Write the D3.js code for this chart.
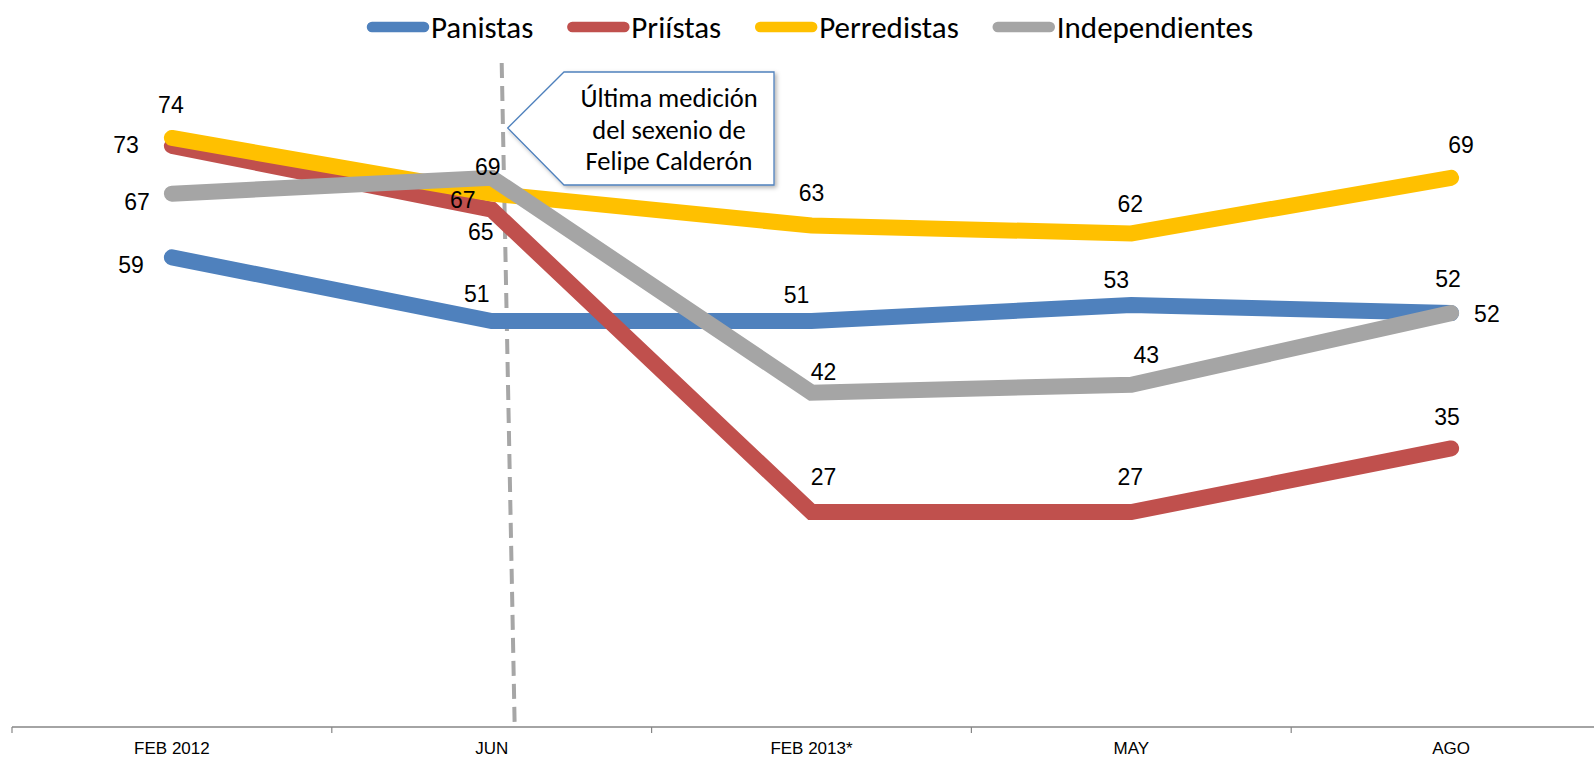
<!DOCTYPE html>
<html>
<head>
<meta charset="utf-8">
<script src="https://cdn.jsdelivr.net/npm/d3@7"></script>
<style>
  body { margin: 0; background: #fff; }
  svg { display: block; }
  .lbl { font-family: "Liberation Sans", Arial, sans-serif; font-size: 23px; fill: #000; }
  .axis-lbl { font-family: "Liberation Sans", Arial, sans-serif; font-size: 17px; fill: #000; }
  .leg { font-family: Carlito, Calibri, Lato, sans-serif; font-size: 31px; fill: #000; }
  .note { font-family: Carlito, Calibri, Lato, sans-serif; font-size: 26.5px; fill: #000; }
</style>
</head>
<body>
<svg id="chart" width="1594" height="759"></svg>
<script>
const categories = ["FEB 2012", "JUN", "FEB 2013*", "MAY", "AGO"];
const seriesNames = ["Panistas", "Priístas", "Perredistas", "Independientes"];
const panistas = [59, 51, 51, 53, 52];
const priistas = [73, 65, 27, 27, 35];
const perredistas = [74, 67, 63, 62, 69];
const independientes = [67, 69, 42, 43, 52];
const noteLines = ["Última medición", "del sexenio de", "Felipe Calderón"];

const colors = ["#4f81bd", "#c0504d", "#ffc000", "#a5a5a5"];

// label placement per series, per point: [dx, dy, anchor]
const labelPlace = [
    [[-28, 16, "end"], [-15, -19, "middle"], [-15, -18, "middle"], [-15, -17, "middle"], [-3, -26, "middle"]],
    [[-33, 7, "end"], [-11, 30, "middle"], [12, -27, "middle"], [-1, -27, "middle"], [-4, -23, "middle"]],
    [[-1, -25, "middle"], [-29, 14, "middle"], [0, -25, "middle"], [-1, -21, "middle"], [10, -25, "middle"]],
    [[-22, 16, "end"], [-4, -3, "middle"], [12, -13, "middle"], [15, -22, "middle"], [23, 9, "start"]]
];

const series = [panistas, priistas, perredistas, independientes].map((vals, i) => ({
    name: seriesNames[i],
    color: colors[i],
    values: vals
}));

const svg = d3.select("#chart");

const xBand = d3.scaleBand().domain(categories).range([12, 1611]);
const x = d3.scalePoint().domain(categories).range([12, 1611]).padding(0.5);
const y = d3.scaleLinear().domain([0, 90]).range([727, 727 - 90 * 7.96]);

// x axis
const axis = svg.append("g").attr("transform", "translate(0,727)");
axis.append("line")
    .attr("x1", 12).attr("x2", 1611)
    .attr("stroke", "#868686").attr("stroke-width", 1.3);
axis.selectAll("line.tick")
    .data(categories)
    .join("line")
    .attr("class", "tick")
    .attr("x1", d => xBand(d)).attr("x2", d => xBand(d))
    .attr("y1", 0).attr("y2", 6)
    .attr("stroke", "#868686").attr("stroke-width", 1.2);
axis.selectAll("text")
    .data(categories)
    .join("text")
    .attr("class", "axis-lbl")
    .attr("x", d => x(d))
    .attr("y", 27)
    .attr("text-anchor", "middle")
    .text(d => d);

// dashed marker after JUN
svg.append("line")
    .attr("x1", x("JUN") + 10).attr("y1", 63)
    .attr("x2", x("JUN") + 23).attr("y2", 727)
    .attr("stroke", "#a6a6a6")
    .attr("stroke-width", 4)
    .attr("stroke-dasharray", "15 8");

// lines
const line = d3.line()
    .x((d, i) => x(categories[i]))
    .y(d => y(d));

svg.selectAll("path.series")
    .data(series)
    .join("path")
    .attr("class", "series")
    .attr("d", d => line(d.values))
    .attr("fill", "none")
    .attr("stroke", d => d.color)
    .attr("stroke-width", 16)
    .attr("stroke-linecap", "round")
    .attr("stroke-linejoin", "miter");

// data labels
series.forEach((s, si) => {
    svg.append("g")
        .selectAll("text")
        .data(s.values)
        .join("text")
        .attr("class", "lbl")
        .attr("x", (d, i) => x(categories[i]) + labelPlace[si][i][0])
        .attr("y", (d, i) => y(d) + labelPlace[si][i][1])
        .attr("text-anchor", (d, i) => labelPlace[si][i][2])
        .text(d => d);
});

// callout
const defs = svg.append("defs");
const f = defs.append("filter").attr("id", "shadow")
    .attr("x", "-10%").attr("y", "-10%").attr("width", "130%").attr("height", "130%");
f.append("feDropShadow")
    .attr("dx", 2).attr("dy", 2).attr("stdDeviation", 2)
    .attr("flood-color", "#000").attr("flood-opacity", 0.3);

const tipX = x("JUN") + 16, tipY = 128;
svg.append("path")
    .attr("d", `M${tipX},${tipY} L564,72 L774,72 L774,185 L564,185 Z`)
    .attr("fill", "#fff")
    .attr("stroke", "#4f81bd")
    .attr("stroke-width", 1.3)
    .attr("filter", "url(#shadow)");

svg.append("g")
    .selectAll("text")
    .data(noteLines)
    .join("text")
    .attr("class", "note")
    .attr("x", 669)
    .attr("y", (d, i) => 107 + i * 31.5)
    .attr("text-anchor", "middle")
    .text(d => d);

// legend
const leg = svg.append("g");
const items = leg.selectAll("g")
    .data(series)
    .join("g");
items.append("line")
    .attr("x1", 5).attr("x2", 57)
    .attr("y1", 27).attr("y2", 27)
    .attr("stroke", d => d.color)
    .attr("stroke-width", 10.5)
    .attr("stroke-linecap", "round");
items.append("text")
    .attr("class", "leg")
    .attr("x", 64)
    .attr("y", 38)
    .text(d => d.name);

let pos = 0;
const widths = [];
items.each(function () {
    const w = 64 + d3.select(this).select("text").node().getComputedTextLength();
    widths.push(w);
});
const total = d3.sum(widths) + 34 * (widths.length - 1);
let start = 810 - total / 2;
items.attr("transform", (d, i) => {
    const t = `translate(${start + pos},0)`;
    pos += widths[i] + 34;
    return t;
});
</script>
</body>
</html>
